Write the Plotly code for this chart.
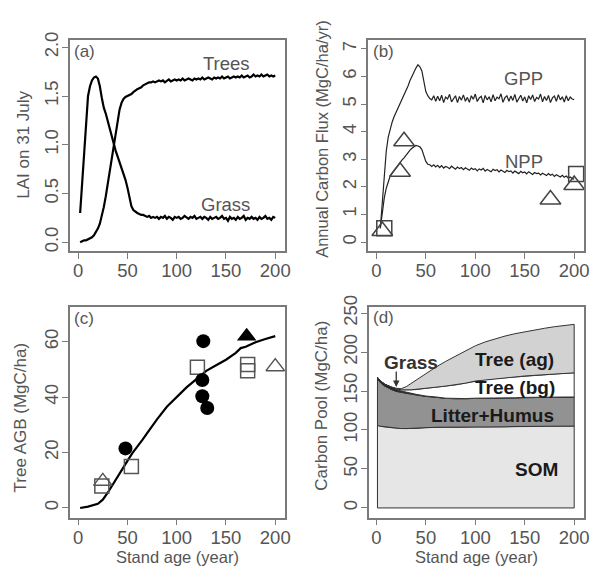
import plotly.graph_objects as go

# ---------------- data ----------------
# (a) LAI on 31 July
ages_a = list(range(2, 201, 2))
lai_grass = [0.30, 0.62, 0.98, 1.30, 1.50, 1.60, 1.66, 1.69, 1.70, 1.68,
             1.60, 1.48, 1.38, 1.32, 1.24, 1.16, 1.08, 1.00, 0.94, 0.88,
             0.82, 0.77, 0.71, 0.64, 0.56, 0.45, 0.37, 0.33, 0.31, 0.30,
             0.29, 0.28, 0.28, 0.27, 0.26, 0.27, 0.25, 0.26, 0.25, 0.26,
             0.24, 0.26, 0.25, 0.27, 0.24, 0.26, 0.25, 0.23, 0.26, 0.25,
             0.26, 0.24, 0.25, 0.27, 0.25, 0.24, 0.26, 0.25, 0.27, 0.24,
             0.25, 0.26, 0.24, 0.26, 0.25, 0.23, 0.26, 0.24, 0.25, 0.26,
             0.24, 0.25, 0.27, 0.24, 0.25, 0.22, 0.26, 0.24, 0.25, 0.23,
             0.26, 0.24, 0.25, 0.27, 0.23, 0.25, 0.24, 0.26, 0.24, 0.25,
             0.23, 0.26, 0.24, 0.25, 0.27, 0.24, 0.25, 0.23, 0.26, 0.25]
lai_trees = [0.00, 0.01, 0.02, 0.02, 0.03, 0.04, 0.05, 0.07, 0.10, 0.14,
             0.19, 0.27, 0.36, 0.47, 0.60, 0.75, 0.89, 1.02, 1.15, 1.27,
             1.36, 1.43, 1.47, 1.49, 1.50, 1.51, 1.52, 1.54, 1.56, 1.57,
             1.58, 1.59, 1.61, 1.62, 1.63, 1.64, 1.64, 1.65, 1.64, 1.65,
             1.66, 1.65, 1.66, 1.64, 1.66, 1.67, 1.65, 1.66, 1.67, 1.66,
             1.67, 1.66, 1.68, 1.66, 1.67, 1.68, 1.67, 1.66, 1.68, 1.67,
             1.68, 1.67, 1.69, 1.67, 1.68, 1.69, 1.68, 1.67, 1.69, 1.68,
             1.69, 1.68, 1.70, 1.68, 1.69, 1.70, 1.68, 1.69, 1.70, 1.69,
             1.70, 1.69, 1.71, 1.69, 1.70, 1.71, 1.69, 1.70, 1.72, 1.70,
             1.71, 1.70, 1.72, 1.70, 1.71, 1.72, 1.70, 1.71, 1.70, 1.71]

# (b) Annual carbon flux
ages_b = list(range(4, 201, 2))
gpp = [0.50, 1.50, 2.60, 3.30, 3.80, 4.10, 4.35, 4.55, 4.70, 4.85,
       5.00, 5.15, 5.30, 5.45, 5.65, 5.85, 6.00, 6.20, 6.30, 6.42,
       6.35, 6.20, 5.80, 5.45, 5.30, 5.20, 5.15, 5.30, 5.10, 5.28,
       5.12, 5.32, 5.05, 5.25, 5.18, 5.35, 5.08, 5.22, 5.30, 5.05,
       5.27, 5.14, 5.33, 5.10, 5.24, 5.06, 5.30, 5.17, 5.36, 5.09,
       5.22, 5.28, 5.04, 5.31, 5.15, 5.26, 5.08, 5.34, 5.12, 5.25,
       5.19, 5.37, 5.06, 5.23, 5.30, 5.10, 5.29, 5.13, 5.35, 5.07,
       5.21, 5.32, 5.11, 5.26, 5.04, 5.30, 5.16, 5.33, 5.09, 5.24,
       5.18, 5.36, 5.08, 5.27, 5.13, 5.31, 5.05, 5.22, 5.29, 5.10,
       5.34, 5.15, 5.26, 5.07, 5.30, 5.12, 5.25, 5.18, 5.16]
npp = [0.50, 1.10, 1.60, 1.95, 2.20, 2.40, 2.50, 2.60, 2.68, 2.78,
       2.88, 2.98, 3.05, 3.15, 3.25, 3.33, 3.40, 3.45, 3.50, 3.48,
       3.45, 3.35, 3.15, 2.92, 2.82, 2.80, 2.74, 2.80, 2.72, 2.78,
       2.70, 2.77, 2.68, 2.74, 2.71, 2.66, 2.75, 2.69, 2.64, 2.72,
       2.66, 2.70, 2.62, 2.69, 2.65, 2.60, 2.68, 2.63, 2.66, 2.58,
       2.65, 2.61, 2.67, 2.57, 2.63, 2.60, 2.55, 2.64, 2.59, 2.62,
       2.54, 2.61, 2.57, 2.52, 2.60, 2.55, 2.58, 2.50, 2.57, 2.53,
       2.48, 2.56, 2.51, 2.54, 2.47, 2.55, 2.49, 2.45, 2.52, 2.48,
       2.50, 2.43, 2.49, 2.45, 2.41, 2.48, 2.42, 2.46, 2.38, 2.44,
       2.40, 2.36, 2.42, 2.35, 2.39, 2.32, 2.36, 2.30, 2.28]
obs_b_tri_x = [6, 24, 28, 176, 200]
obs_b_tri_y = [0.40, 2.55, 3.65, 1.54, 2.07]
obs_b_sq_x = [8, 202]
obs_b_sq_y = [0.50, 2.47]

# (c) Tree AGB
ages_c = [2, 10, 20, 25, 30, 35, 40, 45, 50, 55, 60, 65, 70, 80, 90, 100,
          110, 120, 130, 140, 150, 160, 165, 170, 180, 190, 200]
agb = [0.0, 0.5, 1.5, 3.0, 5.5, 8.5, 11.5, 14.5, 17.0, 19.8, 22.0, 24.5, 27.0,
       32.0, 36.5, 40.0, 43.5, 46.5, 49.5, 51.5, 53.5, 56.0, 57.7, 58.2, 59.8,
       61.0, 62.0]
obs_c_circ_x = [48, 127, 126, 126, 131]
obs_c_circ_y = [21.5, 60.2, 46.2, 40.3, 36.1]
obs_c_sq_x = [24, 54, 121, 172, 172]
obs_c_sq_y = [7.9, 15.0, 50.8, 51.8, 49.5]
obs_c_tri_x = [25, 200]
obs_c_tri_y = [9.6, 51.0]
obs_c_ftri_x = [171]
obs_c_ftri_y = [62.0]

# (d) Carbon pools (stacked components)
ages_d = [1, 3, 5, 8, 10, 15, 20, 25, 30, 35, 40, 50, 60, 70, 80, 90, 100,
          110, 120, 130, 140, 150, 160, 170, 180, 190, 200]
pool_som = [106, 105, 104.5, 104, 103.5, 103, 102.5, 101.8, 101.8, 102, 102,
            103, 103.5, 103.5, 103.5, 104, 104, 104, 104, 104, 104.5, 104.5,
            104.5, 105, 105, 105, 105]
pool_litter = [59, 57, 55, 52.5, 51.5, 49, 47, 46.2, 45.2, 44, 43, 40, 38.5,
               37, 36.5, 36, 36.5, 37, 37, 37, 36.5, 37, 37, 37, 37, 37, 37]
pool_grass = [2.5, 2.5, 2.5, 2.5, 2.5, 2.5, 2.5, 2, 1.5, 1, 0.8, 0.5, 0.4,
              0.3, 0.3, 0.3, 0.3, 0.3, 0.3, 0.3, 0.3, 0.3, 0.3, 0.3, 0.3,
              0.3, 0.3]
pool_tree_bg = [0, 0, 0, 0, 0.1, 0.3, 0.8, 1.5, 3, 4.5, 6, 10, 12.5, 15.5,
                17.5, 19.8, 22, 23.5, 24.8, 25.8, 26.8, 27.5, 28.3, 29, 29.8,
                30.4, 31]
pool_tree_ag = [0, 0, 0, 0, 0.1, 0.3, 0.8, 1.5, 4, 8.3, 12, 19.3, 25.7, 31.7,
                36.7, 41.4, 45.2, 48.2, 50.9, 53.4, 55.4, 56.7, 58.4, 59.2,
                60.4, 61.3, 62.2]
pool_names = ["SOM", "Litter+Humus", "Grass", "Tree (bg)", "Tree (ag)"]
pool_colors = ["#e6e6e6", "#929292", "#222222", "#ffffff", "#d2d2d2"]

x_ticks = [0, 50, 100, 150, 200]
ticks_a = [0.0, 0.5, 1.0, 1.5, 2.0]
ticks_b = [0, 1, 2, 3, 4, 5, 6, 7]
ticks_c = [0, 20, 40, 60]
ticks_d = [0, 50, 100, 150, 200, 250]

# ---------------- figure ----------------
W, H = 597, 578
FONT = "Liberation Sans, Arial, Helvetica, sans-serif"
GREY = "#7a7a7a"
TXT = "#555555"


def xd(a, b):
    return [a / W, b / W]


def yd(top, bottom):
    return [1 - bottom / H, 1 - top / H]


def axis(domain, rng, tickvals, anchor, fmt=None, yaxis=False):
    d = dict(domain=domain, range=rng, tickvals=tickvals, anchor=anchor,
             showline=True, mirror=True, linecolor=GREY, linewidth=1.5,
             ticks="outside", ticklen=6, tickcolor=GREY, tickwidth=1.3,
             showgrid=False, zeroline=False,
             tickfont=dict(family=FONT, size=18.5, color=TXT))
    if fmt:
        d["tickformat"] = fmt
    if yaxis:
        d["tickangle"] = -90
        d["ticklabelstandoff"] = -3
    else:
        d["ticklabelstandoff"] = -4
    return d


fig = go.Figure()

# (a)
fig.add_trace(go.Scatter(x=ages_a, y=lai_grass, mode="lines", name="Grass",
                         line=dict(color="black", width=2.2),
                         xaxis="x", yaxis="y"))
fig.add_trace(go.Scatter(x=ages_a, y=lai_trees, mode="lines", name="Trees",
                         line=dict(color="black", width=2.2),
                         xaxis="x", yaxis="y"))

# (b)
fig.add_trace(go.Scatter(x=ages_b, y=gpp, mode="lines", name="GPP",
                         line=dict(color="#222", width=1.2),
                         xaxis="x2", yaxis="y2"))
fig.add_trace(go.Scatter(x=ages_b, y=npp, mode="lines", name="NPP",
                         line=dict(color="#222", width=1.2),
                         xaxis="x2", yaxis="y2"))
fig.add_trace(go.Scatter(x=obs_b_tri_x, y=obs_b_tri_y, mode="markers",
                         marker=dict(symbol="triangle-up-open", size=18,
                                     color="#444", line=dict(width=1.5)),
                         cliponaxis=False, xaxis="x2", yaxis="y2"))
fig.add_trace(go.Scatter(x=obs_b_sq_x, y=obs_b_sq_y, mode="markers",
                         marker=dict(symbol="square-open", size=15,
                                     color="#444", line=dict(width=1.5)),
                         cliponaxis=False, xaxis="x2", yaxis="y2"))

# (c)
fig.add_trace(go.Scatter(x=ages_c, y=agb, mode="lines", name="AGB",
                         line=dict(color="black", width=2.2),
                         xaxis="x3", yaxis="y3"))
fig.add_trace(go.Scatter(x=obs_c_sq_x, y=obs_c_sq_y, mode="markers",
                         marker=dict(symbol="square-open", size=14,
                                     color="#555", line=dict(width=1.5)),
                         xaxis="x3", yaxis="y3"))
fig.add_trace(go.Scatter(x=obs_c_tri_x, y=obs_c_tri_y, mode="markers",
                         marker=dict(symbol="triangle-up-open", size=16,
                                     color="#555", line=dict(width=1.5)),
                         cliponaxis=False, xaxis="x3", yaxis="y3"))
fig.add_trace(go.Scatter(x=obs_c_circ_x, y=obs_c_circ_y, mode="markers",
                         marker=dict(symbol="circle", size=14, color="black"),
                         xaxis="x3", yaxis="y3"))
fig.add_trace(go.Scatter(x=obs_c_ftri_x, y=obs_c_ftri_y, mode="markers",
                         marker=dict(symbol="triangle-up", size=17,
                                     color="black"),
                         xaxis="x3", yaxis="y3"))

# (d) stacked polygons
layers = [pool_som, pool_litter, pool_grass, pool_tree_bg, pool_tree_ag]
lower = [0.0] * len(ages_d)
for name, vals, col in zip(pool_names, layers, pool_colors):
    upper = [lo + v for lo, v in zip(lower, vals)]
    px = ages_d + ages_d[::-1] + [ages_d[0]]
    py = upper + lower[::-1] + [upper[0]]
    fig.add_trace(go.Scatter(x=px, y=py, mode="lines", fill="toself",
                             fillcolor=col, name=name,
                             line=dict(color="#333", width=1),
                             xaxis="x4", yaxis="y4"))
    lower = upper

# layout
fig.update_layout(
    width=W, height=H, margin=dict(l=0, r=0, t=0, b=0),
    paper_bgcolor="white", plot_bgcolor="white", showlegend=False,
    font=dict(family=FONT, color=TXT),
    xaxis=axis(xd(70.5, 287.5), [-8.5, 209.5], x_ticks, "y"),
    yaxis=axis(yd(28.3, 245), [-0.095, 2.078], ticks_a, "x", ".1f", True),
    xaxis2=axis(xd(372, 589.5), [-8.2, 209.5], x_ticks, "y2"),
    yaxis2=axis(yd(28.3, 245), [-0.34, 7.33], ticks_b, "x2", None, True),
    xaxis3=axis(xd(70.5, 287.5), [-8.5, 209.5], x_ticks, "y3"),
    yaxis3=axis(yd(301.3, 517.3), [-3.5, 72.7], ticks_c, "x3", None, True),
    xaxis4=axis(xd(372.5, 589.5), [-7.8, 209.5], x_ticks, "y4"),
    yaxis4=axis(yd(301.3, 517.3), [-12.5, 258.4], ticks_d, "x4", None, True),
)

ann = []


def ptext(x, y, text, size=18, angle=0, xanchor="center", color=TXT, bold=False):
    ann.append(dict(x=x / W, y=1 - y / H, xref="paper", yref="paper",
                    text=f"<b>{text}</b>" if bold else text, showarrow=False,
                    textangle=angle, xanchor=xanchor, yanchor="middle",
                    font=dict(family=FONT, size=size, color=color)))


def dtext(ax, x, y, text, size=18.5, color=TXT, bold=False):
    ann.append(dict(x=x, y=y, xref=ax[0], yref=ax[1],
                    text=f"<b>{text}</b>" if bold else text, showarrow=False,
                    xanchor="center", yanchor="middle",
                    font=dict(family=FONT, size=size, color=color)))


# panel labels
ptext(73, 40, "(a)", 17, xanchor="left")
ptext(375, 40, "(b)", 17, xanchor="left")
ptext(73, 314, "(c)", 17, xanchor="left")
ptext(375, 313, "(d)", 17, xanchor="left")

# axis titles
ptext(24, 136, "LAI on 31 July", 17, -90)
ptext(325, 130, "Annual Carbon Flux (MgC/ha/yr)", 16.5, -90)
ptext(21, 415, "Tree AGB (MgC/ha)", 17, -90)
ptext(325, 403, "Carbon Pool (MgC/ha)", 17, -90)
ptext(179, 558, "Stand age (year)", 16.5)
ptext(481, 558, "Stand age (year)", 16.5)

# in-panel labels
dtext(("x", "y"), 151, 1.83, "Trees")
dtext(("x", "y"), 150, 0.39, "Grass")
dtext(("x2", "y2"), 149, 5.92, "GPP")
dtext(("x2", "y2"), 149, 2.91, "NPP")
dark = "#1a1a1a"
dtext(("x4", "y4"), 140, 191, "Tree (ag)", 19, dark, True)
dtext(("x4", "y4"), 140, 154, "Tree (bg)", 19, dark, True)
dtext(("x4", "y4"), 117, 118, "Litter+Humus", 19, dark, True)
dtext(("x4", "y4"), 162, 49, "SOM", 19, dark, True)
dtext(("x4", "y4"), 35, 187, "Grass", 19, "#333", True)
ann.append(dict(x=20, y=155, xref="x4", yref="y4", ax=20, ay=177,
                axref="x4", ayref="y4", text="", showarrow=True,
                arrowhead=2, arrowsize=1, arrowwidth=1.3, arrowcolor="#333"))

fig.update_layout(annotations=ann)
fig.write_html(
    "out.html",
    config={"displayModeBar": False},
    post_script="document.body.style.margin='0px';"
                "document.documentElement.style.overflow='hidden';",
)
